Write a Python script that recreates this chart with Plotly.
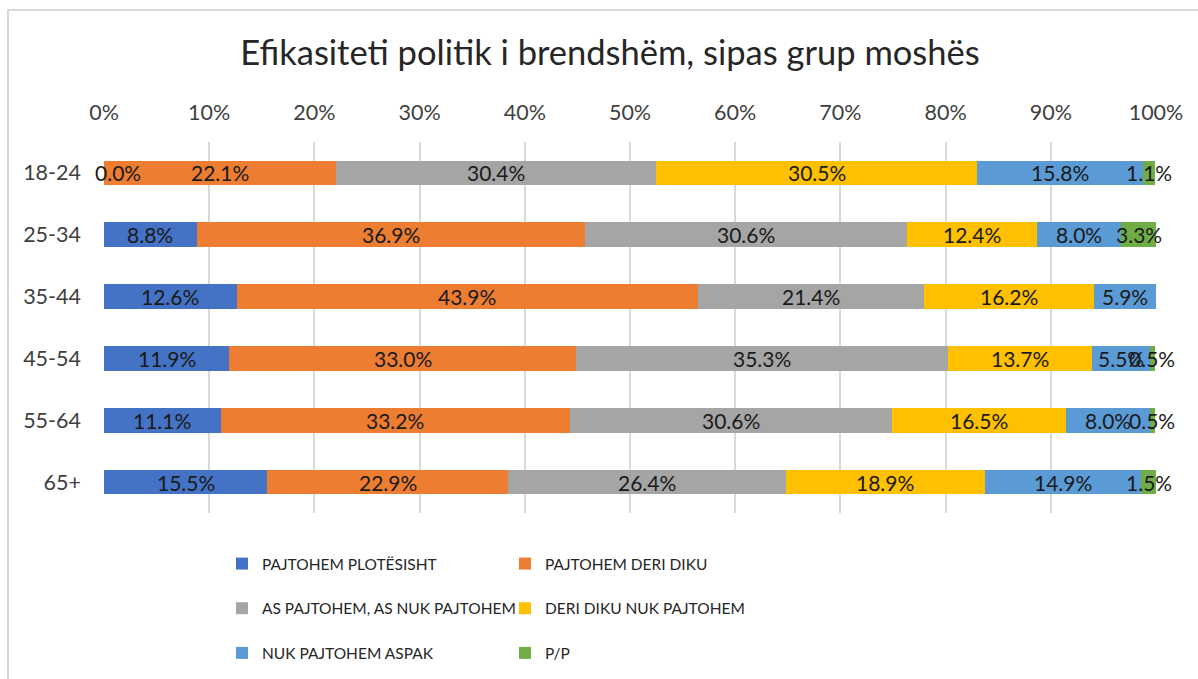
import plotly.graph_objects as go

# Age groups (top to bottom) and the answer shares, in percent
age_groups = ["18-24", "25-34", "35-44", "45-54", "55-64", "65+"]

pajtohem_plotesisht = [0.0, 8.8, 12.6, 11.9, 11.1, 15.5]
pajtohem_deri_diku = [22.1, 36.9, 43.9, 33.0, 33.2, 22.9]
as_pajtohem_as_nuk = [30.4, 30.6, 21.4, 35.3, 30.6, 26.4]
deri_diku_nuk = [30.5, 12.4, 16.2, 13.7, 16.5, 18.9]
nuk_pajtohem_aspak = [15.8, 8.0, 5.9, 5.5, 8.0, 14.9]
pp = [1.1, 3.3, None, 0.5, 0.5, 1.5]

series_names = [
    "PAJTOHEM PLOTËSISHT",
    "PAJTOHEM DERI DIKU",
    "AS PAJTOHEM, AS NUK PAJTOHEM",
    "DERI DIKU NUK PAJTOHEM",
    "NUK PAJTOHEM ASPAK",
    "P/P",
]
series_values = [
    pajtohem_plotesisht,
    pajtohem_deri_diku,
    as_pajtohem_as_nuk,
    deri_diku_nuk,
    nuk_pajtohem_aspak,
    pp,
]
colors = ["#4472C4", "#ED7D31", "#A5A5A5", "#FFC000", "#5B9BD5", "#70AD47"]
# which of the two legend columns each series goes to
legend_column = ["legend", "legend2", "legend", "legend2", "legend", "legend2"]

FONT = "Lato"

fig = go.Figure()
annotations = []
running = [0.0] * len(age_groups)

for name, vals, col, leg in zip(series_names, series_values, colors, legend_column):
    fig.add_trace(
        go.Bar(
            name=name,
            y=age_groups,
            x=vals,
            orientation="h",
            marker=dict(color=col, line=dict(width=0)),
            legend=leg,
            legendgroup=name,
            hoverinfo="name+x",
        )
    )
    # value labels centred on each segment (a zero segment's label sits just right of it)
    for i, v in enumerate(vals):
        if v is None:
            continue
        annotations.append(
            dict(
                x=running[i] + v / 2,
                y=age_groups[i],
                xref="x",
                yref="y",
                xshift=14 if v == 0 else 0,
                text=f"{v:.1f}%",
                showarrow=False,
                font=dict(family=FONT, size=21, color="#1a1a1a"),
            )
        )
        running[i] += v

L, R, T, B = 104, 42, 142, 166
W, H = 1198, 679
plot_w = W - L - R
plot_h = H - T - B


def px_x(p):
    return (p - L) / plot_w


def px_y(p):
    return (H - B - p) / plot_h


legend_style = dict(
    xanchor="left",
    yanchor="top",
    orientation="v",
    traceorder="grouped",
    tracegroupgap=21.5,
    font=dict(family=FONT, size=15.5, color="#262626"),
    bgcolor="rgba(0,0,0,0)",
)

fig.update_layout(
    width=W,
    height=H,
    margin=dict(l=L, r=R, t=T, b=B, autoexpand=False),
    paper_bgcolor="white",
    plot_bgcolor="white",
    barmode="stack",
    bargap=0.6,
    font=dict(family=FONT, color="#404040"),
    title=dict(
        text="Efikasiteti politik i brendshëm, sipas grup moshës",
        x=610 / W,
        xref="container",
        xanchor="center",
        y=1 - 53 / H,
        yref="container",
        yanchor="middle",
        font=dict(family=FONT, size=34.5, color="#262626"),
    ),
    xaxis=dict(
        side="top",
        range=[0, 100],
        dtick=10,
        ticksuffix="%",
        showgrid=True,
        gridcolor="#d9d9d9",
        gridwidth=2,
        zeroline=False,
        showline=False,
        ticks="",
        ticklabelstandoff=17,
        tickfont=dict(family=FONT, size=21.5, color="#404040"),
        fixedrange=True,
    ),
    yaxis=dict(
        categoryorder="array",
        categoryarray=age_groups,
        autorange="reversed",
        showgrid=False,
        zeroline=False,
        showline=False,
        ticks="",
        ticklabelstandoff=22,
        tickfont=dict(family=FONT, size=21.5, color="#404040"),
        fixedrange=True,
    ),
    legend=dict(x=px_x(222), y=px_y(547), **legend_style),
    legend2=dict(x=px_x(505), y=px_y(547), **legend_style),
    annotations=annotations,
    shapes=[
        dict(
            type="rect",
            xref="paper",
            yref="paper",
            x0=px_x(8),
            x1=px_x(1210),
            y0=px_y(700),
            y1=px_y(10),
            line=dict(color="#d9d9d9", width=2),
            fillcolor="rgba(0,0,0,0)",
            layer="below",
        )
    ],
)

fig.write_html("out.html")
